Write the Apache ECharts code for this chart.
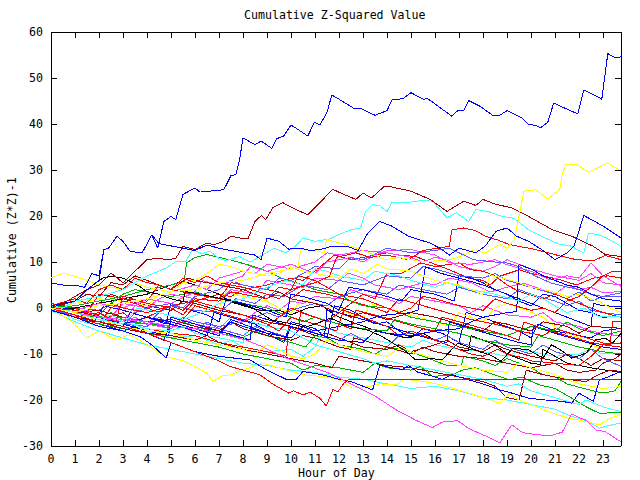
<!DOCTYPE html>
<html><head><meta charset="utf-8">
<script src="https://cdn.jsdelivr.net/npm/echarts@6/dist/echarts.min.js"></script>
<style>html,body{margin:0;padding:0;background:#fff}#c{width:640px;height:480px}#c svg path{shape-rendering:crispEdges}</style>
</head><body><div id="c"></div>
<script>
const chartTitle = 'Cumulative Z-Squared Value';
const xName = 'Hour of Day';
const yName = 'Cumulative (Z*Z)-1';
const xMax = 23.75;
const yMin = -30, yMax = 60;

// [hour, cumulative value] pairs
const blueTop = [[0,5.4],[0.5,5],[1,5],[1.4,4.5],[1.7,7.5],[2.0,7],[2.2,12.7],[2.4,13],[2.75,15.6],[3.0,14.5],[3.3,12.3],[3.8,12],[4.2,15.9],[4.45,13],[4.7,18.8],[5.0,19.9],[5.2,19.2],[5.5,24.7],[6.0,26.1],[6.2,25.2],[7.2,25.7],[7.5,28.8],[7.7,29],[7.85,32],[8.0,37],[8.5,35.5],[8.75,36.3],[9.2,34.7],[9.4,36.8],[9.7,37.4],[10.0,39.8],[10.7,37.4],[10.98,40.4],[11.2,39.8],[11.5,42.5],[11.7,46.3],[12.0,45.4],[12.65,43.3],[12.9,43.4],[13.5,41.9],[14.0,42.9],[14.2,45.2],[14.66,45.5],[15.0,46.8],[15.5,45.4],[15.7,45.5],[16.7,41.7],[16.9,42.8],[17.2,43],[17.4,45.1],[17.86,43.9],[18.4,41.9],[18.7,41.9],[19.0,42.9],[19.6,41.4],[19.9,39.9],[20.2,39.7],[20.4,39.2],[20.7,40.4],[20.95,44.6],[21.3,43.7],[21.95,42.2],[22.2,47.4],[22.45,46.8],[22.95,45.4],[23.2,55.3],[23.5,54.4],[23.75,54.6]];
const blueSecond = [[0,0.5],[1,1.5],[1.5,4],[2,6],[2.2,12.7],[2.4,13],[2.75,15.6],[3.0,14.5],[3.3,12.3],[3.8,12],[4.2,15.9],[4.5,14],[5.0,13.5],[5.5,13],[6.0,12.5],[6.5,13.7],[7.0,13],[7.5,12.5],[8.0,12],[8.5,11.5],[8.75,10.5],[9.0,15.2],[9.5,14.5],[9.9,12.8],[10.4,13],[10.8,12.5],[11.2,12.7],[11.7,13.4],[12.35,13.4],[12.8,12.5],[13.2,16.3],[13.7,18.8],[14.2,17.8],[14.9,15.6],[15.8,14.1],[16.2,13],[16.6,11.5],[17.0,13],[17.7,12],[18.1,13.5],[18.55,16.7],[19.0,17.4],[19.4,15.6],[19.9,14.5],[20.5,12.5],[21.0,10.5],[21.5,12],[21.8,13.5],[22.2,20.1],[22.6,19],[23.1,17.5],[23.75,15.2]];
const darkredTop = [[0,0],[0.5,1],[1,2.5],[1.5,4],[2,5],[2.5,7.6],[3,5.5],[3.5,8],[4.0,10.5],[4.4,10.8],[4.9,10.5],[5.2,10.8],[5.5,13.4],[6.0,12.7],[6.47,14.1],[6.8,13.8],[7.2,14.5],[7.5,15.6],[7.9,15.2],[8.2,15],[8.5,18.8],[8.76,20.1],[8.95,19.2],[9.24,21.8],[9.66,22.9],[10.2,21.4],[10.7,20.3],[11.2,22.9],[11.74,25.8],[12.2,24.7],[12.7,23.6],[13.0,25],[13.35,23.9],[13.9,26.5],[14.2,26.3],[15.0,25.4],[15.8,23.6],[16.5,21],[17.2,23.2],[17.7,22.3],[18.0,23.6],[18.55,22.5],[19.2,21.8],[19.9,19.9],[20.9,17],[21.7,15.6],[22.6,13.4],[23.1,11.6],[23.75,11.2]];
const cyanTop = [[0,0.5],[0.5,0],[1,1.5],[2,2.5],[3,4],[4,7],[4.5,8],[4.9,9],[5.2,10.1],[5.6,10],[5.9,12.7],[6.3,11.8],[6.6,12.4],[7.0,10.8],[7.3,10.3],[7.85,11.2],[8.3,10],[8.8,11.5],[9.3,13],[9.8,12],[10.2,13.5],[10.5,15.2],[11.0,14.5],[11.6,15],[12.0,16],[12.5,17],[12.9,17.4],[13.1,21],[13.4,22.5],[13.7,22.2],[14.0,21],[14.2,22.9],[14.8,22.9],[15.5,23.4],[15.9,23.2],[16.5,19.6],[16.9,20.7],[17.4,18.8],[17.7,21.4],[18.2,21],[18.8,19.9],[19.3,19.5],[19.9,17],[20.6,15.2],[21.2,13.8],[21.6,13.6],[22.2,12],[22.4,16.3],[22.9,15.8],[23.15,15.2],[23.75,13.4]];
const yellowTop = [[0,0],[1,-1],[2,0.5],[3,1],[4,2],[5,3.5],[6,4],[7,5.5],[8,6],[9,7.5],[10,8.5],[10.3,9],[10.4,12.7],[11,12.5],[11.4,12],[11.47,14.9],[12.3,13.8],[13,12.5],[13.95,10.5],[14.5,11],[15.5,10],[16.6,10.5],[17.2,11.5],[17.6,12.7],[18.1,12],[18.7,13.8],[19.0,13],[19.3,14.9],[19.5,19.9],[19.7,25.4],[20.2,25.7],[20.7,23.7],[21.2,25.7],[21.3,29],[21.45,31.2],[21.9,31.2],[22.4,29.5],[22.8,30.5],[23.2,31.6],[23.5,30.5],[23.75,30]];
const magentaLow = [[0,0],[1,-1],[2,-2],[3,-2.5],[4,-3],[5,-4],[6,-4.5],[7,-5.5],[8.1,-6.9],[8.8,-8.4],[9.8,-10.9],[10.8,-12.7],[11.6,-14.2],[12.3,-16],[13,-17.8],[13.55,-19.3],[14.4,-22.2],[15.2,-24.4],[15.9,-26],[16.3,-24.8],[16.95,-24.5],[17.4,-26.2],[18.1,-27.8],[18.7,-29.3],[19.2,-25.4],[19.65,-27.1],[20.2,-27.5],[20.8,-27.8],[21.3,-27],[21.7,-23],[22.0,-23.8],[22.3,-24.4],[22.7,-26.5],[23.1,-26.9],[23.75,-29.1]];
const redFlat = [[0,0],[1,-1.5],[2,-3],[3,-4],[4,-5.5],[5,-7.5],[6,-9.5],[7,-11.5],[7.45,-12.7],[8,-13.5],[8.7,-14.5],[9.2,-16.4],[9.9,-18.5],[10.1,-18],[10.5,-18.9],[10.8,-18.3],[11.2,-19.6],[11.47,-21.3],[11.75,-17.7],[11.95,-18.2],[12.2,-16.4],[12.4,-15.5],[23.75,-15.5]];
const blackMain = [[0,0],[0.5,1],[1,2.5],[1.5,4],[2.15,6.5],[2.5,6.9],[3,6.5],[3.7,4.7],[3.97,3.6],[4.5,3],[5,2],[5.5,1.4],[5.6,3.6],[6.2,3],[6.95,2.2],[7.5,1.5],[8.3,0.3],[8.7,-1],[9.2,-2.6],[9.9,-3.3],[10.6,-4.2],[11.1,-3.3],[11.65,-2.2],[12.4,-4],[13.2,-4.8],[13.8,-6.2],[14.7,-9.1],[15.2,-11.3],[15.9,-11],[16.3,-11.3],[16.7,-9],[16.95,-7.6],[17.4,-8.5],[17.85,-9.5],[18.3,-10.2],[18.75,-11.6],[19.25,-8.7],[19.9,-9.1],[20.5,-10.9],[20.85,-8],[21.2,-9],[21.7,-10.9],[22.3,-9.8],[22.7,-6.9],[23.1,-6.6],[23.4,-7.6],[23.75,-5.5]];
const blackSecond = [[0,-0.5],[1,0],[2,1],[3,2],[4,3],[5,5],[5.5,5.8],[6,5],[7,3],[7.45,1.4],[8,0.5],[8.7,-0.5],[9.5,-0.5],[10,-1.5],[10.7,0],[11.3,0.5],[11.8,-1.5],[12.5,-3],[13.3,-4.5],[14,-5.5],[14.8,-6.5],[15.5,-5.5],[16,-7],[17,-9],[17.4,-9.3],[17.5,-6],[18.5,-8],[19,-10],[20,-12],[20.4,-12.3],[20.5,-9],[21.5,-12],[22.5,-13],[23.75,-14]];
const red1 = [[0,0],[1,-0.5],[2,-1.5],[2.5,1],[3,0],[4,-1],[5,0.5],[5.5,-0.5],[6,2],[7,1.5],[7.5,3.5],[8,3],[9,2],[9.5,4.5],[10,4],[11,5.5],[11.6,6.9],[11.9,11],[12.7,12],[13.3,11],[14,11.5],[14.9,10.5],[15.5,12.5],[16.1,13],[16.6,13.4],[16.7,17],[17.2,17.4],[17.7,16.8],[18.1,15.6],[18.6,14.8],[19.1,13.8],[20.2,12.7],[21.3,11.2],[21.9,10.5],[22.6,10.3],[23.1,11.4],[23.4,11],[23.75,10.5]];
const red2 = [[0,0.5],[1,-1],[2,-2.5],[3,-1],[3.5,-3],[4,-2],[5,0.5],[6,1.5],[7,3],[7.5,2.5],[8,4],[9,5],[10,6.5],[10.5,6],[11,8],[11.8,11.5],[12.5,10.5],[13,11],[14,12],[14.5,11.5],[15.2,11.2],[16,9.5],[16.6,8.3],[17.4,6.5],[18,6],[18.3,5],[18.7,6.9],[19.5,8.3],[20,7.5],[20.6,6.9],[21.3,6],[21.9,5],[22.6,6.5],[23.2,7],[23.75,6.5]];
const red3 = [[0,1],[1,0],[1.5,-1],[2,3],[3,2],[4,1.5],[4.5,5],[5,4],[6,3],[7,2],[7.5,5.5],[8.5,4.5],[9.5,3.5],[10,2],[10.5,4],[11.5,3],[12.5,1.5],[13.5,0],[14,-1],[14.5,2],[15.5,0.5],[16.5,-1],[17.5,-2.5],[18.5,-3.5],[19.5,-5],[20.5,-6],[21,-4.5],[22,-6],[23,-7.6],[23.3,-7.8],[23.4,-2.9],[23.75,-2.9]];
const red4 = [[0,0],[1,-2],[2,-3.5],[2.5,0],[3,1.5],[3.5,1],[4.5,-1],[5.5,-2.5],[6,0.5],[7,-1],[8,-2.5],[9,-4],[9.5,-2],[10,0],[10.5,-1],[11.5,-3],[12,-1],[12.5,1],[13,3],[13.5,2],[13.8,5.4],[14,7.6],[14.6,7.5],[15.4,9.8],[16,9],[17,9.8],[17.5,8.3],[18,8],[18.5,7],[19,5],[19.5,3.6],[20.5,2],[21,3],[22,1],[22.5,0],[23,-1],[23.75,-2]];
const red5 = [[0,-0.5],[1,-2],[2,-1],[2.7,-3],[3,2.6],[4,1],[5,0],[5.5,-1.5],[6,1.5],[7,0],[8,-1.5],[9,-3.5],[9.5,-5],[10,-2],[11,-3.5],[11.9,-5],[12.2,-0.5],[13,-2],[14,-4],[14.5,-6],[15,-5],[16,-7],[17,-9],[17.5,-10],[18,-10.5],[18.6,-9],[19,-10],[19.8,-11],[20,-11.5],[21,-12],[22,-12.5],[22.5,-10.5],[23,-8],[23.75,-7.6]];
const red6 = [[0,0.5],[1,2],[1.5,1],[2,4],[2.5,5],[3,4],[3.5,6.5],[4,5.5],[4.5,5],[5,4],[5.5,6.5],[6,5.5],[6.5,7],[7,5.5],[8,4.5],[9,3],[9.5,2],[10,4],[10.3,7],[11,6],[11.5,4.5],[12,3],[13,2],[13.5,1],[14,0],[14.5,-1],[15,0],[15.5,2.5],[16,2],[17,0.5],[18,-0.5],[18.5,2],[19,1],[20,-0.5],[20.5,0],[21,-1],[21.5,1.5],[22,2.5],[22.6,5],[23,7],[23.4,8],[23.75,8]];
const red7 = [[0,0],[1,-1],[2,-2.5],[3,-3],[4,-4.5],[5,-5.5],[6,-6],[7,-7.5],[8,-8.5],[9,-9.5],[9.8,-10.5],[9.9,-4],[10.3,-5],[10.4,-1],[11,-2],[12,-3.5],[12.5,-4.5],[12.7,-0.5],[13.5,-1.5],[14.5,-3],[15.5,-4.5],[16,-5],[16.3,-2],[17,-3],[18,-4.5],[19,-6],[19.5,-7],[19.7,-3],[20.5,-4.5],[21.5,-6],[22.5,-7.5],[23,-8],[23.75,-8.5]];
const magenta1 = [[0,0.5],[1,-1],[1.5,-0.5],[2,-2],[3,-3],[3.5,0.5],[4,2],[5,1],[6,3.5],[6.3,6],[7,5],[8,7],[8.3,9],[9,8],[10,9.5],[10.5,8.5],[11,7.5],[11.5,10],[12.5,11],[13,10],[13.5,11.5],[14,12.5],[15,12.7],[16,11.5],[16.6,9.8],[17.5,9.5],[18.5,10.5],[19,9.4],[20,8],[20.8,6.1],[21.5,7],[22,6.5],[22.5,9.8],[23,7],[23.75,4.7]];
const magenta2 = [[0,0],[1,-2],[2,-3.5],[2.5,-2],[3,1],[4,0],[4.5,2],[5,3],[6,2],[7,1.5],[7.5,4],[8.5,3],[9,6],[10,5],[10.5,4.5],[11,6.5],[12,6],[12.4,7.6],[13,6.5],[13.5,5],[14.5,4],[15.5,5.5],[16,5],[16.6,6.5],[17.5,5.5],[18.3,3.5],[19,4.5],[19.7,5.4],[20.5,4],[21,3],[21.5,5],[22,4],[22.5,4.5],[23,3.3],[23.75,3.6]];
const magenta3 = [[0,0],[1,-1],[2,-2.5],[3,-3],[3.5,-2],[4,-3.5],[5,-4.5],[5.5,-2.5],[6,-3.5],[7,-4.5],[7.5,-2],[8,-3],[8.5,-1],[9,0.5],[9.5,-0.5],[10,1.5],[10.5,1],[11,2.5],[12,2],[12.5,4],[13,3],[14,2],[14.5,1],[15,2.5],[16,1.5],[17,0.5],[17.5,-1],[18,0.5],[18.5,-0.5],[19,-1.5],[20,-2],[20.5,-1],[21,-3],[22,-4],[22.5,-5],[23,-5.5],[23.75,-6.2]];
const magenta4 = [[0,0],[1,-0.5],[2,1],[3,0],[4,2],[5,3.5],[6,5],[6.5,4],[7,6.5],[8,8],[8.5,7.5],[9,9.5],[10,8.5],[11,10],[11.5,12],[12,11.5],[13,12.5],[14,12],[15,11],[15.5,10],[16,11],[16.5,10.5],[17,9],[18,8],[18.5,9],[19,10.5],[19.5,9.5],[20,8.5],[21,7],[22,6],[22.5,7.5],[23,5.5],[23.75,5]];
const slate1 = [[0,-0.5],[1,-1.5],[2,-3],[3,-4],[3.5,-1],[4,0],[5,1],[5.5,0],[6,2.5],[7,4],[7.5,6],[8,5],[9,4],[9.5,6.5],[10,6],[11,9],[12,8.5],[12.5,11],[13,10.5],[14,13],[15,12],[16,12.5],[16.6,13],[17,12],[17.6,10.5],[18.5,10],[19,9.8],[19.5,9],[20.2,6.9],[20.8,5.5],[21.4,4.7],[22,4],[22.5,3],[23,2.5],[23.75,3.3]];
const slate2 = [[0,0],[1,-1],[2,-2],[3,-3],[4,-3.5],[4.5,-1],[5,0.5],[6,-0.5],[7,-1],[7.7,2],[8.5,1],[9,3],[9.7,2.5],[10.5,5],[11.5,4],[12,6],[13,5],[14,7],[15,6.5],[15.5,9],[16,8.5],[17,7],[18,6.5],[18.5,7.5],[19,6],[20,4.5],[21,3],[21.5,2],[22,3.5],[22.5,1.5],[23,2.5],[23.75,2.5]];
const slate3 = [[0,0.5],[1,-0.5],[2,-2],[3,-3.5],[4,-4],[4.5,-2],[5,-3.5],[6,-5],[6.5,-3],[7,-4.5],[8,-6],[8.5,-4],[9,-5],[10,-6.5],[10.5,-4],[11,-5.5],[12,-7],[12.5,-5.5],[13,-7],[14,-8.5],[14.5,-6],[15,-5.5],[16,-7],[16.5,-6],[17,-7.5],[18,-9],[18.5,-7],[19,-8.5],[20,-10],[20.5,-8],[21,-9.5],[22,-11],[22.5,-9],[23,-11],[23.75,-12.7]];
const slate4 = [[0,0],[1,-1],[2,-2.5],[3,-2],[4,-3],[5,-4.5],[5.5,-2],[6,-3],[7,-4],[8,-3],[9,-1],[9.5,-2],[10,-0.5],[11,1],[11.5,0.5],[12,2.5],[13,4],[14,3],[14.5,5],[15.5,4],[16.5,3],[17,4.5],[18,3],[19,2],[19.5,4],[20,3],[21,1.5],[21.5,0.5],[22,1.5],[22.5,-0.5],[23,-1],[23.75,-1.5]];
const blue1 = [[0,-0.5],[1,-2],[2,-4],[3,-5],[3.7,-6.2],[4.2,-8],[4.8,-10.9],[5,-7.5],[5.5,-8.5],[6,-9.5],[7,-10.5],[8.3,-11.3],[9,-13.5],[9.8,-15.5],[10.2,-15.6],[10.5,-13.8],[11.3,-14.5],[12,-15.5],[12.5,-16],[13,-17],[13.4,-17.8],[13.7,-12.4],[14,-12.8],[14.65,-13.4],[14.9,-12.5],[15.3,-14],[15.9,-14.8],[16.3,-15.5],[16.7,-14.5],[17.4,-15.6],[18,-16.5],[18.7,-17.8],[19.2,-18.5],[19.9,-19.6],[20.6,-20],[21.3,-20.3],[21.7,-20.7],[22,-18.5],[22.6,-20.3],[22.85,-15.6],[23.2,-15],[23.75,-13.8]];
const blue2 = [[0,0],[1,-1.5],[1.8,-3],[2.2,0.5],[3,-0.5],[4,-2],[4.8,-3.5],[5,1],[5.5,0],[6.5,-1.5],[7,-3],[7.3,2],[8,1],[9,-0.5],[9.8,-2],[10,3],[10.5,2.5],[11.5,1],[12,-0.5],[12.4,4.5],[13,4],[14,2.5],[14.6,1.5],[15,4],[16,3],[16.8,1.5],[17,7],[17.5,6.5],[18,5.5],[18.5,4],[19,3],[19.5,1.5],[20,0.5],[20.5,3],[21,2.5],[21.5,1],[22,-0.5],[22.5,-1],[23,-2],[23.75,-1.8]];
const blue3 = [[0,0],[1,-2],[2,-3.5],[3,-5],[3.5,-4],[4,-5.5],[4.7,-7],[5,-3],[6,-4.5],[7,-6],[7.5,-2.5],[8,-3.5],[9,-5.5],[9.7,-7.5],[10,-3],[11,-4.5],[11.5,-6.5],[11.8,0.5],[12.5,-0.5],[13,-2],[13.5,-3.5],[14,-3],[14.5,-5],[15,-6.5],[15.5,-4.5],[16.3,-5.5],[17,-7.5],[17.3,-1],[18,-2],[18.7,-3.5],[19.5,-5],[20,-6.5],[20.3,-3.5],[21,-5],[22,-6],[22.5,-6.5],[23,-5],[23.75,-4.4]];
const blue4 = [[0,0],[1,-1],[2,-2.5],[3,-3.5],[4,-2],[5,-3],[6,-4.5],[7,-5.5],[7.5,-3],[8,-4],[9,-5.5],[10,-6.5],[10.5,-4],[11,-5],[12,-4],[13,-3],[13.5,-2],[14,-1.5],[15,-1],[15.3,-0.4],[15.6,9],[16.2,7.6],[17,6.5],[18,5],[18.5,4],[19,3],[19.5,2],[20,1],[20.5,0],[21,-1],[21.5,-2],[22,-3],[22.5,-4],[22.6,1],[23,0.5],[23.75,0.3]];
const blue5 = [[0,0],[1,-1.5],[2,-3],[3,-4],[3.3,-1],[4,-2],[5,-3.5],[6,-5],[6.5,-6],[6.8,-1],[7.5,-2],[8.5,-3.5],[9,-5],[9.8,-6.5],[10,-4],[11,-5.5],[12,-7],[13,-7.5],[13.5,-5],[14,-5.5],[15,-6],[16,-5],[17,-4.5],[17.5,-3],[18,-2],[18.5,-1.5],[19,-1],[19.4,-0.8],[19.5,9.4],[20,8.5],[20.5,7],[21,6],[21.5,5],[22,4.5],[22.5,3],[23,2],[23.75,1.5]];
const blue6 = [[0,0.5],[1,-0.5],[2,-2],[3,-3.5],[4,-5],[4.9,-6],[5,-2],[6,-3.5],[7,-5],[8,-6.5],[8.3,-7],[8.4,-1.5],[9,-2.5],[10,-4],[11,-5.5],[11.4,-6],[11.5,-0.5],[12,-1],[13,-2.5],[14,-4],[15,-5.5],[16,-7],[16.5,-7.5],[16.6,-3],[17.5,-4.5],[18.5,-6],[19.5,-7.5],[20,-8],[20.1,-4],[21,-5.5],[22,-7],[23,-8.5],[23.75,-9]];
const cyan2 = [[0,0.5],[1,-1],[2,-2.5],[3,-3.5],[3.6,0],[4.5,-1],[5.5,-2.5],[6.3,-1],[7,1],[8,2],[9,4.5],[9.8,6],[10.5,5],[11,8.5],[11.5,8],[12,7],[13,6],[13.5,8],[14.5,7],[15,6],[16,4.5],[16.5,5.5],[17.5,4],[18.5,3],[19.5,1.5],[20,3],[20.5,2],[21.5,-1],[22.2,0],[22.8,-1.8],[23.75,-1.8]];
const cyan3 = [[0,0],[1,-2.5],[2,-4],[3,-5],[3.5,-3.5],[4,-5],[5,-6.5],[6,-6],[7,-8],[7.5,-7],[8,-8.5],[9,-9.5],[10,-9],[10.5,-10.5],[11,-8.5],[11.4,-4],[12,-5.5],[13,-6.5],[14,-7.5],[15,-8.5],[15.5,-7],[16,-8],[17,-9],[18,-9.5],[19,-10.5],[19.6,-9],[20,-9.5],[21,-10.5],[22,-10],[22.5,-9],[23,-10],[23.75,-9.8]];
const cyan4 = [[0,-0.5],[1,-3],[2,-5],[3,-6.5],[4,-8],[5,-9],[6,-10],[7,-11],[8,-12],[9,-12.5],[10,-13.5],[11,-14],[12,-15],[13,-15.5],[14,-16.5],[15,-17.5],[16,-17],[17,-18],[18,-19.5],[19,-20],[20,-21],[21,-22],[21.6,-23.4],[22.3,-24.5],[22.85,-26.1],[23.3,-25.5],[23.75,-25]];
const cyan5 = [[0,0],[1,-1.5],[2,-3],[2.5,-1.5],[3,-3],[4,-4.5],[5,-5],[5.5,-4],[6,-5.5],[7,-6.5],[8,-7.5],[8.3,-3],[9,-4],[10,-5],[10.5,-6.5],[11,-8],[12,-9.5],[13,-11],[13.5,-12],[14,-11.5],[15,-12.5],[16,-13.5],[17,-14.5],[18,-15.5],[19,-17],[19.5,-16.5],[20,-18],[21,-19.5],[22,-21],[22.3,-20],[23,-21.5],[23.75,-22.5]];
const darkred2 = [[0,0],[1,1.5],[1.5,3],[2,2.5],[2.5,5.5],[3,5],[3.5,7],[4,6],[4.5,5],[5,4],[5.7,6.5],[6,6],[7,5],[8,4],[8.5,3],[9,2],[9.5,3.5],[10,2],[11,1],[11.7,-0.5],[12,-1],[12.5,-2],[13,-1],[14,-2.5],[15,-1],[16,-2],[17,-3.5],[18,-5],[18.5,-3],[19,-3.5],[20,-5],[20.5,-3],[21.5,-4],[22,-5.5],[22.5,-4],[23.75,-4.4]];
const darkred3 = [[0,0.5],[1,-0.5],[2,1],[2.5,3],[3,2],[4,0.5],[5,-0.5],[5.5,1.5],[6,1],[7,-0.5],[8,-1.5],[9,-3],[10,-4],[10.5,-5],[11,-6],[11.5,-5.5],[12,-6.5],[12.5,-7.5],[13,-8.5],[14,-9],[14.5,-8],[15,-9.5],[16,-8],[16.5,-7],[17,-8.5],[18,-9.5],[18.5,-8],[19,-9],[20,-10.5],[21,-11.5],[21.5,-10],[22,-11],[22.5,-12.5],[23,-11],[23.75,-11.5]];
const darkred4 = [[0,0],[1,-2],[2,-3],[3,-4.5],[4,-5.5],[5,-6],[6,-7],[6.5,-6],[7,-7.5],[8,-9],[9,-10],[10,-11],[11,-12],[11.7,-13],[12,-10.5],[13,-11.5],[14,-12.5],[15,-13],[16,-14],[17,-15],[18,-16],[18.5,-17],[19,-19.5],[19.5,-20],[19.8,-13.5],[20.5,-14.5],[21.5,-15.5],[22.3,-16],[22.8,-14.5],[23.3,-13.5],[23.75,-13.8]];
const darkred5 = [[0,0],[1,-1],[2,-0.5],[3,-2],[4,-3],[5,-2.5],[6,-4],[7,-5],[7.5,-3],[8,-4.5],[9,-6],[10,-7],[10.5,-6],[11,-6.5],[12,-8.5],[12.5,-9],[12.6,-6.5],[13,-7],[14,-8.5],[15,-10],[15.5,-8.5],[16,-9.5],[17,-10.5],[18,-11],[19,-12],[19.5,-12.5],[20,-13],[21,-12],[21.5,-13.5],[22,-14],[22.7,-13.5],[23,-12],[23.5,-11],[23.75,-10]];
const green1 = [[0,0],[1,-2],[2,-3.5],[3,-4.5],[4,-5.5],[5,-6.5],[6,-7.5],[7,-8.5],[8,-10],[9,-11],[10,-12],[10.5,-13.5],[11,-12.5],[12,-13],[13,-14],[13.5,-12],[14,-13],[15,-13.5],[15.4,-12.7],[15.9,-14.9],[16.7,-14.5],[17.2,-13.4],[17.7,-13],[18.3,-14.2],[19.1,-15.6],[19.6,-15],[20.35,-16.7],[21,-17.5],[21.6,-19.3],[22.3,-21.5],[22.85,-22.9],[23.75,-22.7]];
const green2 = [[0,0],[1,0.5],[2,1.5],[3,2.5],[4,4],[5,5],[5.55,5.8],[5.65,9.8],[6,11],[6.5,11.6],[7,11],[7.44,10.5],[8.2,9.4],[9,8],[9.6,6.5],[10.5,5],[11,4],[12,3],[12.5,1.5],[13,0.5],[14,0],[14.5,-1],[15,-2],[16,-3],[17,-4],[18,-5],[19,-6],[20,-4],[21,-5],[21.5,-3],[22,-4.5],[23,-6],[23.75,-5]];
const green3 = [[0,0],[1,-1.5],[2,-2],[2.5,-1],[3,-2.5],[4,-3.5],[5,-4],[5.5,-3],[6,-4],[7,-5.5],[8,-6.5],[8.5,-5],[9,-6],[10,-7.5],[10.6,-8.5],[11,-6],[11.5,-6.5],[12,-8],[13,-9],[13.5,-10],[14,-8.5],[14.7,-9],[15.5,-10.5],[16,-11.5],[16.5,-12.5],[17.1,-12.5],[17.2,-10.5],[18,-11.5],[18.5,-12.5],[19,-11],[20,-13],[20.5,-14.5],[21,-15],[21.5,-16.5],[22.2,-17.5],[23,-18.5],[23.5,-18],[23.75,-16]];
const green4 = [[0,0.5],[1,0],[2,-0.5],[2.5,1],[3,3],[3.5,4],[4,3.5],[5,2.5],[6,3.5],[7,2],[8,1],[9,0],[9.5,-1],[10,-2],[10.5,-3],[11,-2],[12,-3.5],[13,-4.5],[14,-5],[14.3,-2.5],[15,-3.5],[16,-4.5],[17,-5.5],[18,-7],[19,-8],[20,-8.5],[20.3,-6],[21,-7],[22,-8.5],[23,-9.5],[23.75,-10]];
const yellow2 = [[0,6.5],[0.5,7.6],[1,6.9],[1.6,5.8],[2,5],[2.5,4.5],[3,4],[3.5,5.5],[4,4.5],[5,3.5],[5.5,5.5],[6,6],[6.5,7.5],[7,9.5],[7.5,9],[8,8],[9,7],[9.5,7.5],[10,9],[10.5,8],[11,7.5],[12,6.5],[12.5,8.5],[13,7.5],[13.6,9.5],[14,8.5],[15,8],[15.5,7],[16,6],[17,5],[17.5,4],[18,3],[18.3,7.2],[18.8,6.5],[19.5,5.5],[20,4.5],[21,3.5],[21.5,2.5],[22,3],[22.8,1.5],[23.3,0],[23.75,-1]];
const yellow3 = [[0,0],[1,-3.5],[1.3,-5.5],[1.5,-6.5],[2,-5],[2.7,-6.9],[3.3,-5.8],[4,-8],[4.8,-10.6],[5.6,-11.6],[6.5,-14.2],[6.75,-16],[7.1,-14.8],[7.5,-14.5],[8,-13.5],[8.8,-12],[9.5,-13],[10.5,-14.5],[11.5,-15],[12,-15.6],[12.6,-17.4],[13.3,-17],[13.7,-16.5],[14.4,-16.7],[14.7,-15.5],[15.3,-15.8],[16,-16.4],[16.7,-17.4],[17.4,-18.5],[18.1,-19.6],[18.7,-20.7],[19.1,-18.5],[19.5,-20],[20.2,-21.4],[20.9,-22.9],[21.6,-24],[22.3,-24.7],[22.85,-25.4],[23.3,-24],[23.75,-23.2]];
const yellow4 = [[0,0],[1,-1.5],[2,-2.5],[3,-4],[4,-5],[5,-5.5],[6,-7],[7,-8],[8,-9],[8.5,-10],[9,-8],[9.5,-9],[10,-10.5],[10.5,-11],[11,-10],[11.5,-7],[12,-8],[13,-9.5],[14,-10.5],[14.6,-8.5],[15,-9.5],[16,-11],[17,-12.5],[18,-13.5],[19,-14],[19.5,-12],[20,-13],[21,-14.5],[22,-16.5],[22.5,-17],[23,-17.5],[23.75,-17]];
const yellow5 = [[0,0],[1,1],[2,2],[3,1.5],[4,0.5],[4.5,3],[5,2.5],[6,1.5],[7,0],[7.3,3.5],[8,2.5],[9,1.5],[9.5,0],[10,-1],[10.5,2],[11,1],[12,0],[12.5,-1.5],[13,-2.5],[13.3,1],[14,0],[15,-1.5],[16,-3],[16.6,-4],[17,-1],[17.5,-2],[18,-3],[18.5,0],[19,1],[19.8,-0.5],[20.5,-2],[21,-4],[21.5,-5.5],[22,-6.5],[22.5,-8],[23,-9],[23.75,-9.1]];

const lines = [
  ['red 2', red2, '#ff0000'], ['green 3', green3, '#00b000'], ['blue 3', blue3, '#0000ff'],
  ['magenta 3', magenta3, '#ff40ff'], ['cyan 3', cyan3, '#40ffff'], ['darkred 3', darkred3, '#a00000'],
  ['yellow 5', yellow5, '#ffff00'], ['black 2', blackSecond, '#000000'], ['slate 3', slate3, '#5a5aff'],
  ['red 7', red7, '#ff0000'], ['green 4', green4, '#00b000'], ['blue 6', blue6, '#0000ff'],
  ['magenta 4', magenta4, '#ff40ff'], ['darkred 5', darkred5, '#a00000'], ['slate 4', slate4, '#5a5aff'],
  ['red 3', red3, '#ff0000'], ['green 1', green1, '#00b000'], ['blue 2', blue2, '#0000ff'],
  ['magenta 2', magenta2, '#ff40ff'], ['cyan 4', cyan4, '#40ffff'], ['darkred 4', darkred4, '#a00000'],
  ['yellow 4', yellow4, '#ffff00'], ['slate 2', slate2, '#5a5aff'],
  ['red 4', red4, '#ff0000'], ['green 2', green2, '#00b000'], ['blue 4', blue4, '#0000ff'],
  ['magenta 1', magenta1, '#ff40ff'], ['cyan 5', cyan5, '#40ffff'], ['darkred 2', darkred2, '#a00000'],
  ['yellow 3', yellow3, '#ffff00'], ['black 1', blackMain, '#000000'], ['slate 1', slate1, '#5a5aff'],
  ['red 5', red5, '#ff0000'], ['blue 5', blue5, '#0000ff'], ['cyan 2', cyan2, '#40ffff'],
  ['yellow 2', yellow2, '#ffff00'], ['red 6', red6, '#ff0000'], ['blue 1', blue1, '#0000ff'],
  ['magenta low', magentaLow, '#ff40ff'], ['red flat', redFlat, '#ff0000'], ['red 1', red1, '#ff0000'],
  ['cyan top', cyanTop, '#40ffff'], ['darkred top', darkredTop, '#a00000'], ['yellow top', yellowTop, '#ffff00'],
  ['blue second', blueSecond, '#0000ff'], ['blue top', blueTop, '#0000ff']
];

const FONT = 'DejaVu Sans Mono';
const txt = {fontFamily: FONT, fontSize: 11.6, color: '#000'};
const axisCommon = {
  axisLine: {show: true, onZero: false, lineStyle: {color: '#000', width: 1}},
  axisTick: {show: true, inside: true, length: 6, lineStyle: {color: '#000', width: 1}},
  splitLine: {show: false}
};

const chart = echarts.init(document.getElementById('c'), null, {renderer: 'svg'});
chart.setOption({
  animation: false,
  backgroundColor: '#fff',
  grid: {left: 51, top: 32, width: 570, height: 414, containLabel: false},
  xAxis: [
    Object.assign({type: 'value', position: 'bottom', min: 0, max: xMax, interval: 1,
      axisLabel: Object.assign({show: true, margin: 7, showMaxLabel: false,
        formatter: v => (Number.isInteger(v) ? String(v) : '')}, txt)}, axisCommon),
    Object.assign({type: 'value', position: 'top', min: 0, max: xMax, interval: 1,
      axisLabel: {show: false}}, axisCommon)
  ],
  yAxis: [
    Object.assign({type: 'value', position: 'left', min: yMin, max: yMax, interval: 10,
      axisLabel: Object.assign({show: true, margin: 8}, txt)}, axisCommon),
    Object.assign({type: 'value', position: 'right', min: yMin, max: yMax, interval: 10,
      axisLabel: {show: false}}, axisCommon)
  ],
  graphic: [
    {type: 'text', left: 244, top: 9, style: {text: chartTitle, fill: '#000', font: '11.6px "DejaVu Sans Mono"'}},
    {type: 'text', left: 298, top: 467, style: {text: xName, fill: '#000', font: '11.6px "DejaVu Sans Mono"'}},
    {type: 'text', x: 6, y: 303, rotation: Math.PI / 2, style: {text: yName, fill: '#000', font: '11.6px "DejaVu Sans Mono"'}}
  ],
  series: lines.map(([name, data, color]) => ({
    name, type: 'line', data, xAxisIndex: 0, yAxisIndex: 0,
    showSymbol: false, symbol: 'none', silent: true,
    lineStyle: {color, width: 1}, itemStyle: {color}, z: 2
  }))
});
</script></body></html>
